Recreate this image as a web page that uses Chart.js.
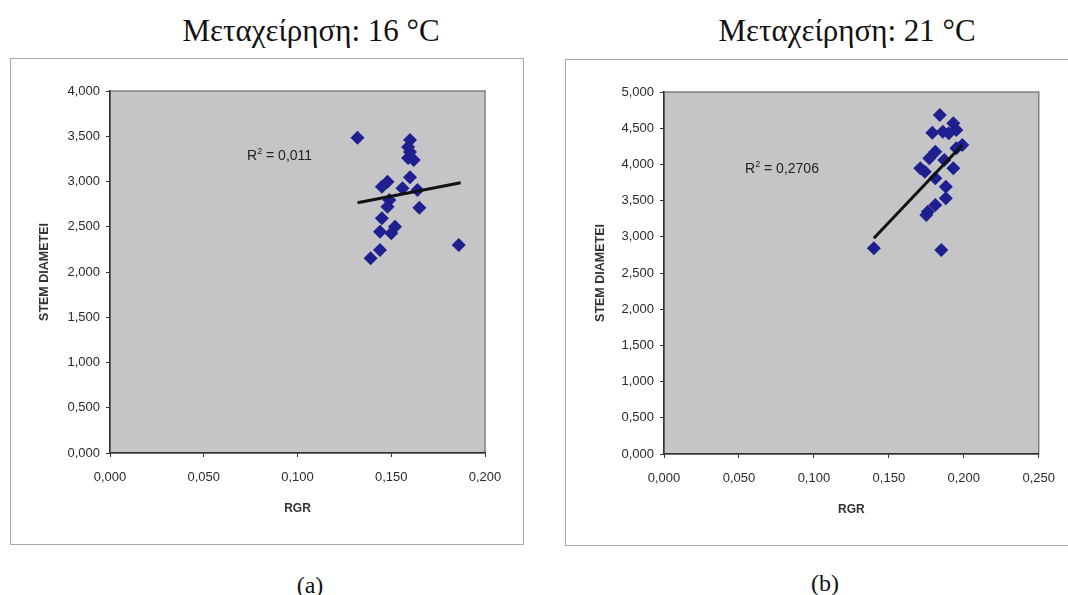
<!DOCTYPE html>
<html>
<head>
<meta charset="utf-8">
<script src="https://cdn.jsdelivr.net/npm/chart.js@4.4.1/dist/chart.umd.min.js"></script>
<style>
  body { margin: 0; background: #fff; width: 1068px; height: 595px; overflow: hidden; position: relative; font-family: "Liberation Sans", Arial, sans-serif; }
  .box { position: absolute; border: 1.5px solid #a8a8a8; box-sizing: border-box; }
  canvas { position: absolute; }
  .ttl { position: absolute; font-family: "Liberation Serif", "Times New Roman", serif; font-size: 31px; line-height: 32px; color: #111; white-space: nowrap; transform: translateX(-50%); }
  .cap { position: absolute; font-family: "Liberation Serif", "Times New Roman", serif; font-size: 24px; line-height: 26px; color: #111; transform: translateX(-50%); }
  .r2 { position: absolute; font-size: 14px; line-height: 16px; color: #222; white-space: nowrap; }
  .r2 sup { font-size: 9px; }
</style>
</head>
<body>
<div class="ttl" style="left:311px; top:15px;">Μεταχείρηση: 16 °C</div>
<div class="ttl" style="left:847px; top:15px;">Μεταχείρηση: 21 °C</div>

<div class="box" style="left:10px; top:58px; width:514px; height:487px;"></div>
<canvas id="chart16" width="514" height="487" style="left:10px; top:58px;"></canvas>
<div class="box" style="left:565px; top:59px; width:520px; height:487px;"></div>
<canvas id="chart21" width="503" height="487" style="left:565px; top:59px;"></canvas>

<div class="r2" style="left:247px; top:143px;">R<sup>2</sup> = 0,011</div>
<div class="r2" style="left:745px; top:156px;">R<sup>2</sup> = 0,2706</div>

<div class="cap" style="left:310px; top:572px;">(a)</div>
<div class="cap" style="left:825px; top:570px;">(b)</div>

<script>
// 16 °C
const rgr16 = [0.132, 0.160, 0.159, 0.160, 0.159, 0.162, 0.160, 0.164, 0.165, 0.148, 0.145,
               0.156, 0.149, 0.148, 0.145, 0.144, 0.152, 0.150, 0.144, 0.139, 0.186];
const stem16 = [3.484, 3.459, 3.381, 3.326, 3.260, 3.238, 3.046, 2.906, 2.710, 2.998, 2.943,
                2.925, 2.796, 2.722, 2.593, 2.445, 2.501, 2.428, 2.243, 2.151, 2.298];
const trend16X = [0.132, 0.187];
const trend16Y = [2.766, 2.987];

// 21 °C
const rgr21 = [0.184, 0.193, 0.195, 0.190, 0.179, 0.186, 0.199, 0.195, 0.181, 0.177, 0.171,
               0.174, 0.187, 0.193, 0.181, 0.188, 0.188, 0.181, 0.176, 0.175, 0.140, 0.185];
const stem21 = [4.682, 4.568, 4.475, 4.430, 4.438, 4.452, 4.268, 4.222, 4.175, 4.084, 3.946,
                3.899, 4.061, 3.946, 3.808, 3.692, 3.532, 3.439, 3.347, 3.301, 2.841, 2.818];
const trend21X = [0.140, 0.199];
const trend21Y = [2.979, 4.268];

const xTitle = 'RGR';
const yTitle = 'STEM DIAMETEI';

const plotBg = {
    id: 'plotBg',
    beforeDraw(chart) {
        const {ctx, chartArea: a} = chart;
        ctx.save();
        ctx.fillStyle = '#c5c5c7';
        ctx.fillRect(a.left, a.top, a.right - a.left, a.bottom - a.top);
        ctx.strokeStyle = '#808080';
        ctx.lineWidth = 1.5;
        ctx.strokeRect(a.left, a.top, a.right - a.left, a.bottom - a.top);
        ctx.restore();
    }
};

function fmt(v) {
    return v.toFixed(3).replace('.', ',');
}

function makeChart(id, xs, ys, tx, ty, xMax, yMax, pad) {
    const ctx = document.getElementById(id).getContext('2d');
    return new Chart(ctx, {
        type: 'scatter',
        data: {
            datasets: [{
                data: tx.map((x, i) => ({x: x, y: ty[i]})),
                showLine: true,
                borderColor: '#111',
                borderWidth: 3,
                pointRadius: 0,
                order: 0
            }, {
                data: xs.map((x, i) => ({x: x, y: ys[i]})),
                pointStyle: 'rectRot',
                pointRadius: 7,
                backgroundColor: '#1f1f8f',
                borderColor: '#1f1f8f',
                borderWidth: 0,
                order: 1
            }]
        },
        options: {
            responsive: false,
            animation: false,
            layout: { padding: { top: 33, right: pad.right, left: 0, bottom: 0 } },
            scales: {
                x: {
                    type: 'linear',
                    min: 0,
                    max: xMax,
                    afterFit: s => { s.height = 92; },
                    ticks: {
                        stepSize: 0.05,
                        callback: fmt,
                        color: '#2a2a2a',
                        padding: 13,
                        maxRotation: 0,
                        font: { family: 'Liberation Sans', size: 13 }
                    },
                    grid: { drawOnChartArea: false, tickLength: 4, color: '#333' },
                    border: { color: '#333', width: 1.5 },
                    title: {
                        display: true,
                        text: xTitle,
                        color: '#333',
                        padding: { top: 0, bottom: 29 },
                        font: { family: 'Liberation Sans', size: 12, weight: 'bold' }
                    }
                },
                y: {
                    min: 0,
                    max: yMax,
                    afterFit: s => { s.width = pad.left; },
                    ticks: {
                        stepSize: 0.5,
                        callback: fmt,
                        color: '#2a2a2a',
                        padding: 6,
                        font: { family: 'Liberation Sans', size: 13 }
                    },
                    grid: { drawOnChartArea: false, tickLength: 4, color: '#333' },
                    border: { color: '#333', width: 1.5 },
                    title: {
                        display: true,
                        text: yTitle,
                        color: '#333',
                        padding: { top: pad.title, bottom: 0 },
                        font: { family: 'Liberation Sans', size: 12.5, weight: 'bold' }
                    }
                }
            },
            plugins: {
                legend: { display: false },
                tooltip: { enabled: false }
            }
        },
        plugins: [plotBg]
    });
}

makeChart('chart16', rgr16, stem16, trend16X, trend16Y, 0.2, 4, { left: 100, right: 39, title: 27 });
makeChart('chart21', rgr21, stem21, trend21X, trend21Y, 0.25, 5, { left: 99, right: 24, title: 28 });
</script>
</body>
</html>
